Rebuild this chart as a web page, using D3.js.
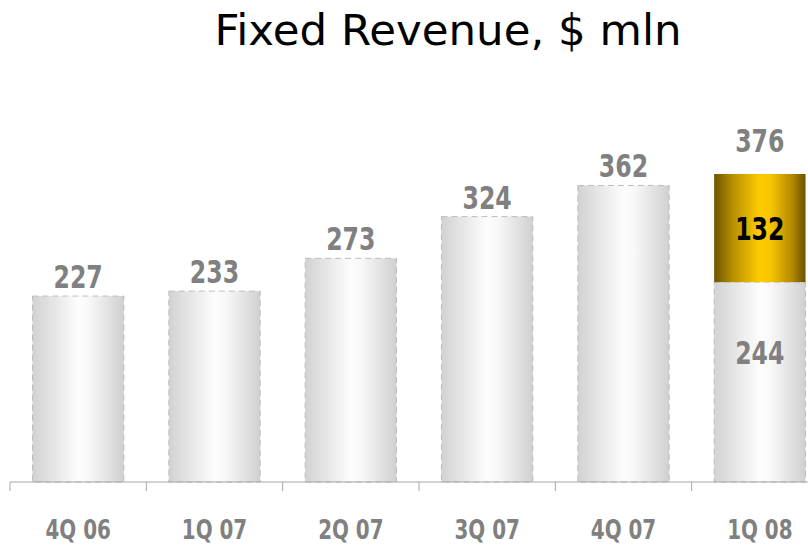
<!DOCTYPE html>
<html><head><meta charset="utf-8">
<script src="https://cdn.jsdelivr.net/npm/d3@7"></script>
<style>body{margin:0;background:#fff}svg{display:block}</style>
</head><body>
<svg id="c" width="808" height="546"></svg>
<script>
const categories = ["4Q 06","1Q 07","2Q 07","3Q 07","4Q 07","1Q 08"];
const baseValues = [227,233,273,324,362,244];
const addedValues = [0,0,0,0,0,132];
const totalValues = [227,233,273,324,362,376];

const svg = d3.select("#c");
const x = d3.scaleBand().domain(categories).range([10, 828]).paddingInner(0.33).paddingOuter(0.165);
const y = d3.scaleLinear().domain([0, 376]).range([482, 174]);

const defs = svg.append("defs");
const g1 = defs.append("linearGradient").attr("id","gray").attr("x1","0").attr("x2","1").attr("y1","0").attr("y2","0");
[[0,"#d2d2d2"],[0.5,"#fdfdfd"],[0.62,"#f8f8f8"],[1,"#d0d0d0"]].forEach(([o,c])=>g1.append("stop").attr("offset",o).attr("stop-color",c));
const g2 = defs.append("linearGradient").attr("id","gold").attr("x1","0").attr("x2","1").attr("y1","0").attr("y2","0");
[[0,"#6e5300"],[0.2,"#b58f00"],[0.5,"#ffcc00"],[0.62,"#f7c500"],[0.85,"#b38a00"],[1,"#6b5000"]].forEach(([o,c])=>g2.append("stop").attr("offset",o).attr("stop-color",c));

// title
svg.append("text").attr("x",448).attr("y",45).attr("text-anchor","middle")
  .attr("font-family","DejaVu Sans").attr("font-size",43.5).attr("fill","#000").text("Fixed Revenue, $ mln");

// bars (base)
svg.selectAll("rect.base").data(categories).join("rect").attr("class","base")
  .attr("x",d=>x(d)).attr("width",x.bandwidth())
  .attr("y",(d,i)=>y(baseValues[i])).attr("height",(d,i)=>y(0)-y(baseValues[i]))
  .attr("fill","url(#gray)").attr("stroke","#bdbdbd").attr("stroke-width",1).attr("stroke-dasharray","6,4");

// added segment
svg.selectAll("rect.add").data(categories.filter((d,i)=>addedValues[i]>0)).join("rect").attr("class","add")
  .attr("x",d=>x(d)).attr("width",x.bandwidth())
  .attr("y",d=>{const i=categories.indexOf(d);return y(baseValues[i]+addedValues[i]);})
  .attr("height",d=>{const i=categories.indexOf(d);return y(baseValues[i])-y(baseValues[i]+addedValues[i]);})
  .attr("fill","url(#gold)");

// axis
const axis = d3.axisBottom(x).tickSize(0).tickFormat("");
const ag = svg.append("g").attr("transform","translate(0,482)").call(axis);
ag.select(".domain").attr("stroke","#a6a6a6").attr("d","M10,0H808");
const bounds = categories.map((d,i)=>x(d)-x.step()*x.paddingInner()/2);
ag.selectAll("line.sep").data(bounds).join("line").attr("class","sep")
  .attr("x1",d=>d).attr("x2",d=>d).attr("y1",0).attr("y2",9).attr("stroke","#a6a6a6");

const lblFont = "DejaVu Sans Condensed";
function label(cx, by, txt, size, fill){
  svg.append("text").attr("transform",`translate(${cx},${by}) scale(0.82,1)`)
    .attr("text-anchor","middle").attr("font-family",lblFont).attr("font-weight","bold")
    .attr("font-size",size).attr("fill",fill).text(txt);
}
categories.forEach((d,i)=>{
  const cx = x(d)+x.bandwidth()/2;
  label(cx, 539, d, 27, "#808080");
  const top = y(totalValues[i]);
  label(cx, top - 8 - (addedValues[i]>0?14:0), totalValues[i], 32, "#808080");
  if(addedValues[i]>0){
    label(cx, (y(baseValues[i])+y(baseValues[i]+addedValues[i]))/2+12, addedValues[i], 32, "#000");
    label(cx, 364, baseValues[i], 32, "#808080");
  }
});
</script>
</body></html>
